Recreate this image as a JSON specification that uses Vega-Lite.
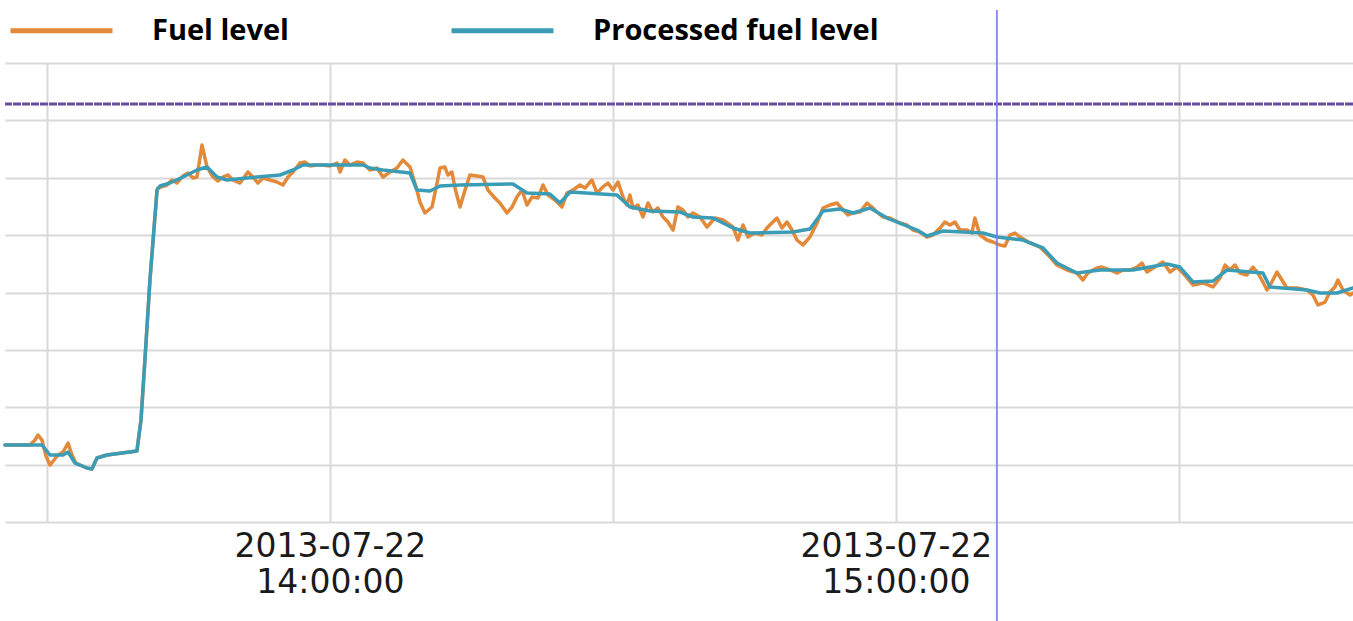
{
  "$schema": "https://vega.github.io/schema/vega-lite/v6.json",
  "width": 1348,
  "height": 459,
  "autosize": "none",
  "padding": {"left": 5, "top": 63, "right": 0, "bottom": 99},
  "background": "white",
  "config": {"view": {"stroke": null}},
  "datasets": {
    "lines": [
      {"time":"2013-07-22T13:25:33Z","level":13.42,"series":"Fuel level"},
      {"time":"2013-07-22T13:28:12Z","level":13.42,"series":"Fuel level"},
      {"time":"2013-07-22T13:28:44Z","level":14.29,"series":"Fuel level"},
      {"time":"2013-07-22T13:29:03Z","level":15.16,"series":"Fuel level"},
      {"time":"2013-07-22T13:29:28Z","level":14.29,"series":"Fuel level"},
      {"time":"2013-07-22T13:29:54Z","level":11.5,"series":"Fuel level"},
      {"time":"2013-07-22T13:30:19Z","level":9.93,"series":"Fuel level"},
      {"time":"2013-07-22T13:30:45Z","level":10.81,"series":"Fuel level"},
      {"time":"2013-07-22T13:31:10Z","level":11.68,"series":"Fuel level"},
      {"time":"2013-07-22T13:31:42Z","level":12.2,"series":"Fuel level"},
      {"time":"2013-07-22T13:32:14Z","level":13.77,"series":"Fuel level"},
      {"time":"2013-07-22T13:32:39Z","level":11.68,"series":"Fuel level"},
      {"time":"2013-07-22T13:33:04Z","level":10.28,"series":"Fuel level"},
      {"time":"2013-07-22T13:34:14Z","level":9.41,"series":"Fuel level"},
      {"time":"2013-07-22T13:34:46Z","level":9.24,"series":"Fuel level"},
      {"time":"2013-07-22T13:35:18Z","level":11.15,"series":"Fuel level"},
      {"time":"2013-07-22T13:36:22Z","level":11.68,"series":"Fuel level"},
      {"time":"2013-07-22T13:39:32Z","level":12.37,"series":"Fuel level"},
      {"time":"2013-07-22T13:39:58Z","level":17.78,"series":"Fuel level"},
      {"time":"2013-07-22T13:40:23Z","level":28.24,"series":"Fuel level"},
      {"time":"2013-07-22T13:40:55Z","level":42.18,"series":"Fuel level"},
      {"time":"2013-07-22T13:41:40Z","level":57.86,"series":"Fuel level"},
      {"time":"2013-07-22T13:41:46Z","level":58.21,"series":"Fuel level"},
      {"time":"2013-07-22T13:42:43Z","level":58.74,"series":"Fuel level"},
      {"time":"2013-07-22T13:43:15Z","level":59.61,"series":"Fuel level"},
      {"time":"2013-07-22T13:43:47Z","level":59.08,"series":"Fuel level"},
      {"time":"2013-07-22T13:44:25Z","level":60.3,"series":"Fuel level"},
      {"time":"2013-07-22T13:44:57Z","level":60.83,"series":"Fuel level"},
      {"time":"2013-07-22T13:45:29Z","level":59.96,"series":"Fuel level"},
      {"time":"2013-07-22T13:45:54Z","level":60.13,"series":"Fuel level"},
      {"time":"2013-07-22T13:46:26Z","level":65.71,"series":"Fuel level"},
      {"time":"2013-07-22T13:46:58Z","level":61.87,"series":"Fuel level"},
      {"time":"2013-07-22T13:47:36Z","level":60.13,"series":"Fuel level"},
      {"time":"2013-07-22T13:48:08Z","level":59.43,"series":"Fuel level"},
      {"time":"2013-07-22T13:48:39Z","level":60.13,"series":"Fuel level"},
      {"time":"2013-07-22T13:49:11Z","level":60.48,"series":"Fuel level"},
      {"time":"2013-07-22T13:49:43Z","level":59.61,"series":"Fuel level"},
      {"time":"2013-07-22T13:50:28Z","level":59.08,"series":"Fuel level"},
      {"time":"2013-07-22T13:51:18Z","level":61.0,"series":"Fuel level"},
      {"time":"2013-07-22T13:51:50Z","level":60.13,"series":"Fuel level"},
      {"time":"2013-07-22T13:52:22Z","level":59.08,"series":"Fuel level"},
      {"time":"2013-07-22T13:52:54Z","level":59.96,"series":"Fuel level"},
      {"time":"2013-07-22T13:53:38Z","level":59.61,"series":"Fuel level"},
      {"time":"2013-07-22T13:54:23Z","level":59.26,"series":"Fuel level"},
      {"time":"2013-07-22T13:55:01Z","level":58.74,"series":"Fuel level"},
      {"time":"2013-07-22T13:55:33Z","level":60.13,"series":"Fuel level"},
      {"time":"2013-07-22T13:56:05Z","level":61.0,"series":"Fuel level"},
      {"time":"2013-07-22T13:56:49Z","level":62.57,"series":"Fuel level"},
      {"time":"2013-07-22T13:57:21Z","level":62.74,"series":"Fuel level"},
      {"time":"2013-07-22T13:57:53Z","level":62.05,"series":"Fuel level"},
      {"time":"2013-07-22T13:58:37Z","level":62.22,"series":"Fuel level"},
      {"time":"2013-07-22T13:59:15Z","level":62.22,"series":"Fuel level"},
      {"time":"2013-07-22T14:00:00Z","level":62.05,"series":"Fuel level"},
      {"time":"2013-07-22T14:00:45Z","level":62.57,"series":"Fuel level"},
      {"time":"2013-07-22T14:01:04Z","level":61.0,"series":"Fuel level"},
      {"time":"2013-07-22T14:01:35Z","level":63.09,"series":"Fuel level"},
      {"time":"2013-07-22T14:02:07Z","level":62.22,"series":"Fuel level"},
      {"time":"2013-07-22T14:02:52Z","level":62.74,"series":"Fuel level"},
      {"time":"2013-07-22T14:03:30Z","level":62.57,"series":"Fuel level"},
      {"time":"2013-07-22T14:04:14Z","level":61.35,"series":"Fuel level"},
      {"time":"2013-07-22T14:04:59Z","level":61.7,"series":"Fuel level"},
      {"time":"2013-07-22T14:05:37Z","level":60.13,"series":"Fuel level"},
      {"time":"2013-07-22T14:06:22Z","level":61.0,"series":"Fuel level"},
      {"time":"2013-07-22T14:07:06Z","level":61.7,"series":"Fuel level"},
      {"time":"2013-07-22T14:07:44Z","level":63.09,"series":"Fuel level"},
      {"time":"2013-07-22T14:08:29Z","level":61.87,"series":"Fuel level"},
      {"time":"2013-07-22T14:09:13Z","level":57.86,"series":"Fuel level"},
      {"time":"2013-07-22T14:09:32Z","level":55.77,"series":"Fuel level"},
      {"time":"2013-07-22T14:10:04Z","level":53.86,"series":"Fuel level"},
      {"time":"2013-07-22T14:10:49Z","level":54.9,"series":"Fuel level"},
      {"time":"2013-07-22T14:11:21Z","level":59.08,"series":"Fuel level"},
      {"time":"2013-07-22T14:11:40Z","level":61.7,"series":"Fuel level"},
      {"time":"2013-07-22T14:12:11Z","level":61.87,"series":"Fuel level"},
      {"time":"2013-07-22T14:12:30Z","level":60.48,"series":"Fuel level"},
      {"time":"2013-07-22T14:12:56Z","level":61.0,"series":"Fuel level"},
      {"time":"2013-07-22T14:13:15Z","level":58.21,"series":"Fuel level"},
      {"time":"2013-07-22T14:13:47Z","level":54.9,"series":"Fuel level"},
      {"time":"2013-07-22T14:14:19Z","level":57.86,"series":"Fuel level"},
      {"time":"2013-07-22T14:14:50Z","level":60.48,"series":"Fuel level"},
      {"time":"2013-07-22T14:15:35Z","level":60.3,"series":"Fuel level"},
      {"time":"2013-07-22T14:16:13Z","level":60.13,"series":"Fuel level"},
      {"time":"2013-07-22T14:16:45Z","level":57.86,"series":"Fuel level"},
      {"time":"2013-07-22T14:17:29Z","level":56.47,"series":"Fuel level"},
      {"time":"2013-07-22T14:18:01Z","level":55.6,"series":"Fuel level"},
      {"time":"2013-07-22T14:18:46Z","level":53.86,"series":"Fuel level"},
      {"time":"2013-07-22T14:19:18Z","level":54.9,"series":"Fuel level"},
      {"time":"2013-07-22T14:19:49Z","level":56.64,"series":"Fuel level"},
      {"time":"2013-07-22T14:20:21Z","level":57.86,"series":"Fuel level"},
      {"time":"2013-07-22T14:20:53Z","level":55.25,"series":"Fuel level"},
      {"time":"2013-07-22T14:21:25Z","level":56.64,"series":"Fuel level"},
      {"time":"2013-07-22T14:22:03Z","level":56.47,"series":"Fuel level"},
      {"time":"2013-07-22T14:22:35Z","level":58.74,"series":"Fuel level"},
      {"time":"2013-07-22T14:23:07Z","level":56.99,"series":"Fuel level"},
      {"time":"2013-07-22T14:23:51Z","level":56.12,"series":"Fuel level"},
      {"time":"2013-07-22T14:24:36Z","level":54.9,"series":"Fuel level"},
      {"time":"2013-07-22T14:25:07Z","level":57.34,"series":"Fuel level"},
      {"time":"2013-07-22T14:25:46Z","level":57.86,"series":"Fuel level"},
      {"time":"2013-07-22T14:26:30Z","level":58.74,"series":"Fuel level"},
      {"time":"2013-07-22T14:27:02Z","level":58.21,"series":"Fuel level"},
      {"time":"2013-07-22T14:27:46Z","level":59.61,"series":"Fuel level"},
      {"time":"2013-07-22T14:28:18Z","level":57.34,"series":"Fuel level"},
      {"time":"2013-07-22T14:28:56Z","level":58.39,"series":"Fuel level"},
      {"time":"2013-07-22T14:29:28Z","level":59.08,"series":"Fuel level"},
      {"time":"2013-07-22T14:30:00Z","level":57.86,"series":"Fuel level"},
      {"time":"2013-07-22T14:30:32Z","level":59.26,"series":"Fuel level"},
      {"time":"2013-07-22T14:31:04Z","level":56.64,"series":"Fuel level"},
      {"time":"2013-07-22T14:31:29Z","level":55.25,"series":"Fuel level"},
      {"time":"2013-07-22T14:31:48Z","level":56.99,"series":"Fuel level"},
      {"time":"2013-07-22T14:32:07Z","level":54.73,"series":"Fuel level"},
      {"time":"2013-07-22T14:32:39Z","level":55.25,"series":"Fuel level"},
      {"time":"2013-07-22T14:33:11Z","level":53.16,"series":"Fuel level"},
      {"time":"2013-07-22T14:33:43Z","level":55.6,"series":"Fuel level"},
      {"time":"2013-07-22T14:34:14Z","level":54.03,"series":"Fuel level"},
      {"time":"2013-07-22T14:34:46Z","level":54.73,"series":"Fuel level"},
      {"time":"2013-07-22T14:35:18Z","level":53.16,"series":"Fuel level"},
      {"time":"2013-07-22T14:35:50Z","level":52.29,"series":"Fuel level"},
      {"time":"2013-07-22T14:36:22Z","level":50.89,"series":"Fuel level"},
      {"time":"2013-07-22T14:36:53Z","level":54.9,"series":"Fuel level"},
      {"time":"2013-07-22T14:37:25Z","level":54.38,"series":"Fuel level"},
      {"time":"2013-07-22T14:37:57Z","level":53.16,"series":"Fuel level"},
      {"time":"2013-07-22T14:38:29Z","level":53.86,"series":"Fuel level"},
      {"time":"2013-07-22T14:39:13Z","level":53.16,"series":"Fuel level"},
      {"time":"2013-07-22T14:39:58Z","level":51.42,"series":"Fuel level"},
      {"time":"2013-07-22T14:40:49Z","level":52.98,"series":"Fuel level"},
      {"time":"2013-07-22T14:41:40Z","level":52.64,"series":"Fuel level"},
      {"time":"2013-07-22T14:42:43Z","level":51.42,"series":"Fuel level"},
      {"time":"2013-07-22T14:43:15Z","level":49.15,"series":"Fuel level"},
      {"time":"2013-07-22T14:43:47Z","level":51.76,"series":"Fuel level"},
      {"time":"2013-07-22T14:44:19Z","level":49.67,"series":"Fuel level"},
      {"time":"2013-07-22T14:45:03Z","level":50.37,"series":"Fuel level"},
      {"time":"2013-07-22T14:45:48Z","level":50.02,"series":"Fuel level"},
      {"time":"2013-07-22T14:46:19Z","level":51.24,"series":"Fuel level"},
      {"time":"2013-07-22T14:46:51Z","level":52.11,"series":"Fuel level"},
      {"time":"2013-07-22T14:47:23Z","level":52.98,"series":"Fuel level"},
      {"time":"2013-07-22T14:47:55Z","level":51.24,"series":"Fuel level"},
      {"time":"2013-07-22T14:48:27Z","level":52.29,"series":"Fuel level"},
      {"time":"2013-07-22T14:48:59Z","level":50.89,"series":"Fuel level"},
      {"time":"2013-07-22T14:49:30Z","level":49.15,"series":"Fuel level"},
      {"time":"2013-07-22T14:50:08Z","level":48.28,"series":"Fuel level"},
      {"time":"2013-07-22T14:50:53Z","level":49.67,"series":"Fuel level"},
      {"time":"2013-07-22T14:51:38Z","level":52.11,"series":"Fuel level"},
      {"time":"2013-07-22T14:52:16Z","level":54.73,"series":"Fuel level"},
      {"time":"2013-07-22T14:53:00Z","level":55.25,"series":"Fuel level"},
      {"time":"2013-07-22T14:53:45Z","level":55.6,"series":"Fuel level"},
      {"time":"2013-07-22T14:54:23Z","level":54.38,"series":"Fuel level"},
      {"time":"2013-07-22T14:54:55Z","level":53.51,"series":"Fuel level"},
      {"time":"2013-07-22T14:55:27Z","level":53.86,"series":"Fuel level"},
      {"time":"2013-07-22T14:56:11Z","level":54.03,"series":"Fuel level"},
      {"time":"2013-07-22T14:56:56Z","level":55.6,"series":"Fuel level"},
      {"time":"2013-07-22T14:57:27Z","level":54.9,"series":"Fuel level"},
      {"time":"2013-07-22T14:57:59Z","level":54.03,"series":"Fuel level"},
      {"time":"2013-07-22T14:58:37Z","level":53.16,"series":"Fuel level"},
      {"time":"2013-07-22T14:59:22Z","level":52.98,"series":"Fuel level"},
      {"time":"2013-07-22T15:00:25Z","level":52.11,"series":"Fuel level"},
      {"time":"2013-07-22T15:01:10Z","level":51.76,"series":"Fuel level"},
      {"time":"2013-07-22T15:01:48Z","level":50.89,"series":"Fuel level"},
      {"time":"2013-07-22T15:02:33Z","level":50.54,"series":"Fuel level"},
      {"time":"2013-07-22T15:03:17Z","level":49.67,"series":"Fuel level"},
      {"time":"2013-07-22T15:03:55Z","level":50.02,"series":"Fuel level"},
      {"time":"2013-07-22T15:04:40Z","level":51.24,"series":"Fuel level"},
      {"time":"2013-07-22T15:05:12Z","level":52.29,"series":"Fuel level"},
      {"time":"2013-07-22T15:05:43Z","level":51.76,"series":"Fuel level"},
      {"time":"2013-07-22T15:06:15Z","level":52.29,"series":"Fuel level"},
      {"time":"2013-07-22T15:06:47Z","level":50.89,"series":"Fuel level"},
      {"time":"2013-07-22T15:07:32Z","level":50.89,"series":"Fuel level"},
      {"time":"2013-07-22T15:08:03Z","level":50.37,"series":"Fuel level"},
      {"time":"2013-07-22T15:08:22Z","level":52.98,"series":"Fuel level"},
      {"time":"2013-07-22T15:08:54Z","level":50.02,"series":"Fuel level"},
      {"time":"2013-07-22T15:09:39Z","level":49.15,"series":"Fuel level"},
      {"time":"2013-07-22T15:10:17Z","level":48.8,"series":"Fuel level"},
      {"time":"2013-07-22T15:11:01Z","level":48.28,"series":"Fuel level"},
      {"time":"2013-07-22T15:11:33Z","level":48.1,"series":"Fuel level"},
      {"time":"2013-07-22T15:12:05Z","level":50.02,"series":"Fuel level"},
      {"time":"2013-07-22T15:12:37Z","level":50.37,"series":"Fuel level"},
      {"time":"2013-07-22T15:13:09Z","level":49.67,"series":"Fuel level"},
      {"time":"2013-07-22T15:14:12Z","level":48.63,"series":"Fuel level"},
      {"time":"2013-07-22T15:15:16Z","level":47.93,"series":"Fuel level"},
      {"time":"2013-07-22T15:16:20Z","level":46.19,"series":"Fuel level"},
      {"time":"2013-07-22T15:17:04Z","level":44.79,"series":"Fuel level"},
      {"time":"2013-07-22T15:18:08Z","level":43.92,"series":"Fuel level"},
      {"time":"2013-07-22T15:19:11Z","level":43.4,"series":"Fuel level"},
      {"time":"2013-07-22T15:19:49Z","level":42.18,"series":"Fuel level"},
      {"time":"2013-07-22T15:20:21Z","level":43.4,"series":"Fuel level"},
      {"time":"2013-07-22T15:21:18Z","level":44.27,"series":"Fuel level"},
      {"time":"2013-07-22T15:21:50Z","level":44.44,"series":"Fuel level"},
      {"time":"2013-07-22T15:22:41Z","level":43.92,"series":"Fuel level"},
      {"time":"2013-07-22T15:23:26Z","level":43.4,"series":"Fuel level"},
      {"time":"2013-07-22T15:24:04Z","level":43.92,"series":"Fuel level"},
      {"time":"2013-07-22T15:24:48Z","level":43.92,"series":"Fuel level"},
      {"time":"2013-07-22T15:25:33Z","level":44.44,"series":"Fuel level"},
      {"time":"2013-07-22T15:26:05Z","level":45.14,"series":"Fuel level"},
      {"time":"2013-07-22T15:26:36Z","level":43.57,"series":"Fuel level"},
      {"time":"2013-07-22T15:27:27Z","level":44.44,"series":"Fuel level"},
      {"time":"2013-07-22T15:28:18Z","level":45.32,"series":"Fuel level"},
      {"time":"2013-07-22T15:29:03Z","level":43.57,"series":"Fuel level"},
      {"time":"2013-07-22T15:29:47Z","level":44.44,"series":"Fuel level"},
      {"time":"2013-07-22T15:30:25Z","level":43.4,"series":"Fuel level"},
      {"time":"2013-07-22T15:31:29Z","level":41.31,"series":"Fuel level"},
      {"time":"2013-07-22T15:32:33Z","level":41.66,"series":"Fuel level"},
      {"time":"2013-07-22T15:33:36Z","level":40.96,"series":"Fuel level"},
      {"time":"2013-07-22T15:34:21Z","level":42.53,"series":"Fuel level"},
      {"time":"2013-07-22T15:34:53Z","level":44.79,"series":"Fuel level"},
      {"time":"2013-07-22T15:35:24Z","level":43.92,"series":"Fuel level"},
      {"time":"2013-07-22T15:35:56Z","level":44.79,"series":"Fuel level"},
      {"time":"2013-07-22T15:36:28Z","level":43.4,"series":"Fuel level"},
      {"time":"2013-07-22T15:37:12Z","level":43.05,"series":"Fuel level"},
      {"time":"2013-07-22T15:37:51Z","level":44.44,"series":"Fuel level"},
      {"time":"2013-07-22T15:38:22Z","level":43.4,"series":"Fuel level"},
      {"time":"2013-07-22T15:38:54Z","level":41.83,"series":"Fuel level"},
      {"time":"2013-07-22T15:39:20Z","level":40.44,"series":"Fuel level"},
      {"time":"2013-07-22T15:39:51Z","level":41.83,"series":"Fuel level"},
      {"time":"2013-07-22T15:40:23Z","level":43.57,"series":"Fuel level"},
      {"time":"2013-07-22T15:40:55Z","level":42.18,"series":"Fuel level"},
      {"time":"2013-07-22T15:41:27Z","level":40.78,"series":"Fuel level"},
      {"time":"2013-07-22T15:42:31Z","level":40.78,"series":"Fuel level"},
      {"time":"2013-07-22T15:43:34Z","level":40.44,"series":"Fuel level"},
      {"time":"2013-07-22T15:44:12Z","level":39.56,"series":"Fuel level"},
      {"time":"2013-07-22T15:44:44Z","level":37.82,"series":"Fuel level"},
      {"time":"2013-07-22T15:45:29Z","level":38.34,"series":"Fuel level"},
      {"time":"2013-07-22T15:46:00Z","level":40.09,"series":"Fuel level"},
      {"time":"2013-07-22T15:46:32Z","level":40.96,"series":"Fuel level"},
      {"time":"2013-07-22T15:46:51Z","level":42.18,"series":"Fuel level"},
      {"time":"2013-07-22T15:47:23Z","level":40.44,"series":"Fuel level"},
      {"time":"2013-07-22T15:48:08Z","level":39.56,"series":"Fuel level"},
      {"time":"2013-07-22T15:48:27Z","level":39.91,"series":"Fuel level"},

      {"time":"2013-07-22T13:25:33Z","level":13.42,"series":"Processed fuel level"},
      {"time":"2013-07-22T13:29:28Z","level":13.42,"series":"Processed fuel level"},
      {"time":"2013-07-22T13:30:19Z","level":11.68,"series":"Processed fuel level"},
      {"time":"2013-07-22T13:31:42Z","level":11.68,"series":"Processed fuel level"},
      {"time":"2013-07-22T13:32:14Z","level":12.2,"series":"Processed fuel level"},
      {"time":"2013-07-22T13:32:58Z","level":10.28,"series":"Processed fuel level"},
      {"time":"2013-07-22T13:34:14Z","level":9.41,"series":"Processed fuel level"},
      {"time":"2013-07-22T13:34:46Z","level":9.24,"series":"Processed fuel level"},
      {"time":"2013-07-22T13:35:18Z","level":11.15,"series":"Processed fuel level"},
      {"time":"2013-07-22T13:36:22Z","level":11.68,"series":"Processed fuel level"},
      {"time":"2013-07-22T13:39:32Z","level":12.37,"series":"Processed fuel level"},
      {"time":"2013-07-22T13:39:58Z","level":17.78,"series":"Processed fuel level"},
      {"time":"2013-07-22T13:40:23Z","level":28.24,"series":"Processed fuel level"},
      {"time":"2013-07-22T13:40:55Z","level":42.18,"series":"Processed fuel level"},
      {"time":"2013-07-22T13:41:40Z","level":57.86,"series":"Processed fuel level"},
      {"time":"2013-07-22T13:41:59Z","level":58.56,"series":"Processed fuel level"},
      {"time":"2013-07-22T13:43:02Z","level":59.08,"series":"Processed fuel level"},
      {"time":"2013-07-22T13:44:25Z","level":60.13,"series":"Processed fuel level"},
      {"time":"2013-07-22T13:45:54Z","level":61.35,"series":"Processed fuel level"},
      {"time":"2013-07-22T13:46:58Z","level":61.87,"series":"Processed fuel level"},
      {"time":"2013-07-22T13:48:01Z","level":60.13,"series":"Processed fuel level"},
      {"time":"2013-07-22T13:49:05Z","level":59.61,"series":"Processed fuel level"},
      {"time":"2013-07-22T13:51:12Z","level":59.96,"series":"Processed fuel level"},
      {"time":"2013-07-22T13:54:42Z","level":60.48,"series":"Processed fuel level"},
      {"time":"2013-07-22T13:56:05Z","level":61.35,"series":"Processed fuel level"},
      {"time":"2013-07-22T13:57:08Z","level":62.22,"series":"Processed fuel level"},
      {"time":"2013-07-22T14:03:30Z","level":62.22,"series":"Processed fuel level"},
      {"time":"2013-07-22T14:04:14Z","level":61.7,"series":"Processed fuel level"},
      {"time":"2013-07-22T14:05:37Z","level":61.35,"series":"Processed fuel level"},
      {"time":"2013-07-22T14:08:29Z","level":60.83,"series":"Processed fuel level"},
      {"time":"2013-07-22T14:09:13Z","level":57.86,"series":"Processed fuel level"},
      {"time":"2013-07-22T14:10:36Z","level":57.69,"series":"Processed fuel level"},
      {"time":"2013-07-22T14:11:40Z","level":58.56,"series":"Processed fuel level"},
      {"time":"2013-07-22T14:13:47Z","level":58.74,"series":"Processed fuel level"},
      {"time":"2013-07-22T14:19:24Z","level":58.91,"series":"Processed fuel level"},
      {"time":"2013-07-22T14:20:53Z","level":57.34,"series":"Processed fuel level"},
      {"time":"2013-07-22T14:23:19Z","level":57.17,"series":"Processed fuel level"},
      {"time":"2013-07-22T14:24:23Z","level":55.6,"series":"Processed fuel level"},
      {"time":"2013-07-22T14:25:27Z","level":57.52,"series":"Processed fuel level"},
      {"time":"2013-07-22T14:30:25Z","level":56.99,"series":"Processed fuel level"},
      {"time":"2013-07-22T14:31:48Z","level":54.9,"series":"Processed fuel level"},
      {"time":"2013-07-22T14:33:55Z","level":54.2,"series":"Processed fuel level"},
      {"time":"2013-07-22T14:37:06Z","level":54.03,"series":"Processed fuel level"},
      {"time":"2013-07-22T14:38:29Z","level":53.16,"series":"Processed fuel level"},
      {"time":"2013-07-22T14:40:36Z","level":52.98,"series":"Processed fuel level"},
      {"time":"2013-07-22T14:42:43Z","level":51.24,"series":"Processed fuel level"},
      {"time":"2013-07-22T14:44:31Z","level":50.37,"series":"Processed fuel level"},
      {"time":"2013-07-22T14:49:05Z","level":50.54,"series":"Processed fuel level"},
      {"time":"2013-07-22T14:50:53Z","level":51.07,"series":"Processed fuel level"},
      {"time":"2013-07-22T14:52:16Z","level":54.2,"series":"Processed fuel level"},
      {"time":"2013-07-22T14:54:04Z","level":54.55,"series":"Processed fuel level"},
      {"time":"2013-07-22T14:55:27Z","level":53.86,"series":"Processed fuel level"},
      {"time":"2013-07-22T14:57:15Z","level":54.73,"series":"Processed fuel level"},
      {"time":"2013-07-22T14:59:03Z","level":52.98,"series":"Processed fuel level"},
      {"time":"2013-07-22T15:00:25Z","level":52.11,"series":"Processed fuel level"},
      {"time":"2013-07-22T15:02:14Z","level":50.89,"series":"Processed fuel level"},
      {"time":"2013-07-22T15:03:17Z","level":49.85,"series":"Processed fuel level"},
      {"time":"2013-07-22T15:04:59Z","level":50.72,"series":"Processed fuel level"},
      {"time":"2013-07-22T15:09:13Z","level":50.37,"series":"Processed fuel level"},
      {"time":"2013-07-22T15:10:42Z","level":49.67,"series":"Processed fuel level"},
      {"time":"2013-07-22T15:13:28Z","level":49.15,"series":"Processed fuel level"},
      {"time":"2013-07-22T15:15:35Z","level":47.76,"series":"Processed fuel level"},
      {"time":"2013-07-22T15:17:04Z","level":45.14,"series":"Processed fuel level"},
      {"time":"2013-07-22T15:19:11Z","level":43.4,"series":"Processed fuel level"},
      {"time":"2013-07-22T15:21:38Z","level":43.92,"series":"Processed fuel level"},
      {"time":"2013-07-22T15:25:07Z","level":43.92,"series":"Processed fuel level"},
      {"time":"2013-07-22T15:28:44Z","level":44.97,"series":"Processed fuel level"},
      {"time":"2013-07-22T15:30:06Z","level":44.44,"series":"Processed fuel level"},
      {"time":"2013-07-22T15:31:29Z","level":41.83,"series":"Processed fuel level"},
      {"time":"2013-07-22T15:33:36Z","level":42.0,"series":"Processed fuel level"},
      {"time":"2013-07-22T15:35:05Z","level":43.92,"series":"Processed fuel level"},
      {"time":"2013-07-22T15:38:54Z","level":43.4,"series":"Processed fuel level"},
      {"time":"2013-07-22T15:39:39Z","level":40.96,"series":"Processed fuel level"},
      {"time":"2013-07-22T15:43:34Z","level":40.44,"series":"Processed fuel level"},
      {"time":"2013-07-22T15:44:57Z","level":39.91,"series":"Processed fuel level"},
      {"time":"2013-07-22T15:46:45Z","level":39.91,"series":"Processed fuel level"},
      {"time":"2013-07-22T15:48:27Z","level":40.78,"series":"Processed fuel level"}
    ]
  },
  "layer": [
    {
      "data": {"name": "lines"},
      "mark": {"type": "line", "strokeWidth": 3.5, "strokeJoin": "round", "strokeCap": "round"},
      "encoding": {
        "x": {
          "field": "time",
          "type": "temporal",
          "title": null,
          "scale": {"type": "utc", "domain": [{"year": 2013, "month": 7, "date": 22, "hours": 13, "minutes": 25, "seconds": 33, "utc": true}, {"year": 2013, "month": 7, "date": 22, "hours": 15, "minutes": 48, "seconds": 27, "utc": true}], "nice": false},
          "axis": {
            "values": [
              {"year": 2013, "month": 7, "date": 22, "hours": 13, "minutes": 30, "utc": true},
              {"year": 2013, "month": 7, "date": 22, "hours": 14, "minutes": 0, "utc": true},
              {"year": 2013, "month": 7, "date": 22, "hours": 14, "minutes": 30, "utc": true},
              {"year": 2013, "month": 7, "date": 22, "hours": 15, "minutes": 0, "utc": true},
              {"year": 2013, "month": 7, "date": 22, "hours": 15, "minutes": 30, "utc": true}
            ],
            "labelExpr": "utcminutes(datum.value) == 0 ? [utcFormat(datum.value, '%Y-%m-%d'), utcFormat(datum.value, '%H:%M:%S')] : ''",
            "grid": true,
            "gridColor": "#d9d9d9",
            "gridWidth": 2,
            "domain": false,
            "ticks": false,
            "tickSize": 0,
            "labelPadding": 8,
            "labelFont": "DejaVu Sans",
            "labelFontSize": 33,
            "labelLineHeight": 36,
            "labelColor": "#1a1a1a",
            "labelFlush": false,
            "labelOverlap": false,
            "labelLimit": 500
          }
        },
        "y": {
          "field": "level",
          "type": "quantitative",
          "title": null,
          "scale": {"domain": [0, 80], "nice": false, "zero": false},
          "axis": {
            "values": [0, 10, 20, 30, 40, 50, 60, 70, 80],
            "grid": true,
            "gridColor": "#d9d9d9",
            "gridWidth": 2,
            "labels": false,
            "ticks": false,
            "domain": false
          }
        },
        "color": {
          "field": "series",
          "type": "nominal",
          "scale": {"domain": ["Fuel level", "Processed fuel level"], "range": ["#e3893a", "#3a9db5"]},
          "legend": {
            "title": null,
            "orient": "none",
            "legendX": 3,
            "legendY": -86,
            "direction": "horizontal",
            "symbolType": "stroke",
            "symbolSize": 10400,
            "symbolStrokeWidth": 5,
            "labelFont": "Open Sans",
            "labelFontSize": 29,
            "labelFontWeight": "bold",
            "labelColor": "#000000",
            "labelOffset": 37,
            "columnPadding": 152,
            "labelLimit": 0
          }
        }
      }
    },
    {
      "data": {"values": [{"level": 72.85}]},
      "mark": {"type": "rule", "color": "#6a4c9e", "strokeWidth": 3, "strokeDash": [8, 1]},
      "encoding": {
        "y": {"field": "level", "type": "quantitative"}
      }
    },
    {
      "data": {"values": [{"time": "2013-07-22T15:10:42Z", "top": 89.24, "bottom": -17.25}]},
      "mark": {"type": "rule", "color": "#7878ff", "strokeWidth": 2, "opacity": 0.85},
      "encoding": {
        "x": {"field": "time", "type": "temporal"},
        "y": {"field": "top", "type": "quantitative"},
        "y2": {"field": "bottom"}
      }
    }
  ]
}
